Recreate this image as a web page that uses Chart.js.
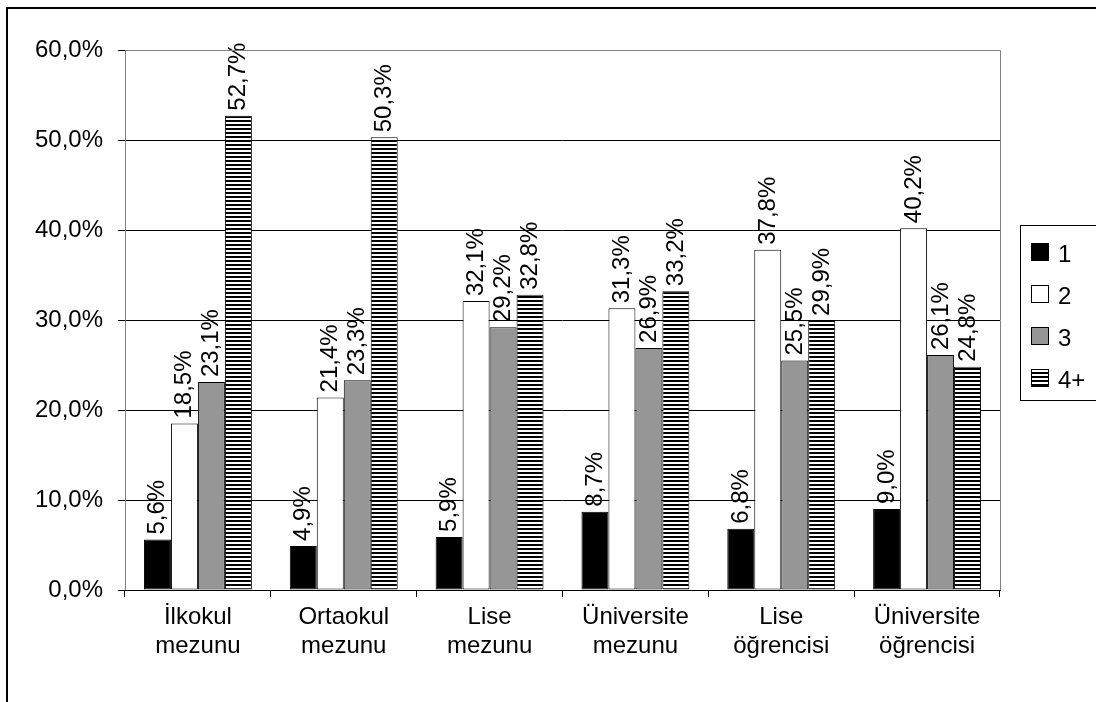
<!DOCTYPE html>
<html>
<head>
<meta charset="utf-8">
<script src="https://cdn.jsdelivr.net/npm/chart.js@4"></script>
<style>
  html, body { margin: 0; padding: 0; background: #fff; }
  #wrap { width: 1096px; height: 702px; }
</style>
</head>
<body>
<div id="wrap"><canvas id="grafico" width="1096" height="702"></canvas></div>
<script>
// Kategoriler ve seriler
const kategoriler = [['İlkokul', 'mezunu'], ['Ortaokul', 'mezunu'], ['Lise', 'mezunu'],
  ['Üniversite', 'mezunu'], ['Lise', 'öğrencisi'], ['Üniversite', 'öğrencisi']];
const seri1 = [5.6, 4.9, 5.9, 8.7, 6.8, 9.0];
const seri2 = [18.5, 21.4, 32.1, 31.3, 37.8, 40.2];
const seri3 = [23.1, 23.3, 29.2, 26.9, 25.5, 26.1];
const seri4 = [52.7, 50.3, 32.8, 33.2, 29.9, 24.8];
const seriAdlari = ['1', '2', '3', '4+'];
const yTikler = [0, 10, 20, 30, 40, 50, 60];

const FONT = 'Arial, "Liberation Sans", sans-serif';

// yatay çizgili desen (4+)
function cizgiliDesen() {
    const c = document.createElement('canvas');
    c.width = 4; c.height = 4;
    const g = c.getContext('2d');
    g.fillStyle = '#fff';
    g.fillRect(0, 0, 4, 4);
    g.fillStyle = '#000';
    g.fillRect(0, 0, 4, 2);
    return document.getElementById('grafico').getContext('2d').createPattern(c, 'repeat');
}
const desen = cizgiliDesen();

const virgul = v => v.toFixed(1).replace('.', ',') + '%';

// etiketler, lejant ve çerçeve
const ekPlugin = {
    id: 'ekler',
    afterDatasetsDraw(chart) {
        const ctx = chart.ctx;
        ctx.save();
        ctx.font = '24px ' + FONT;
        ctx.fillStyle = '#000';
        ctx.textAlign = 'left';
        ctx.textBaseline = 'alphabetic';
        chart.data.datasets.forEach((ds, i) => {
            chart.getDatasetMeta(i).data.forEach((bar, j) => {
                ctx.save();
                ctx.translate(bar.x + 7, bar.y - 5);
                ctx.rotate(-Math.PI / 2);
                ctx.fillText(virgul(ds.data[j]), 0, 0);
                ctx.restore();
            });
        });
        ctx.restore();
    },
    afterDraw(chart) {
        const ctx = chart.ctx;
        const a = chart.chartArea;
        ctx.save();
        // grafik alanı çerçevesi
        ctx.strokeStyle = '#808080';
        ctx.lineWidth = 1;
        ctx.beginPath();
        ctx.moveTo(a.left + 0.5, a.bottom);
        ctx.lineTo(a.left + 0.5, a.top + 0.5);
        ctx.lineTo(a.right + 0.5, a.top + 0.5);
        ctx.lineTo(a.right + 0.5, a.bottom);
        ctx.stroke();
        ctx.strokeStyle = '#000';
        ctx.beginPath();
        ctx.moveTo(a.left, a.bottom + 0.5);
        ctx.lineTo(a.right + 1, a.bottom + 0.5);
        ctx.stroke();
        // dış çerçeve
        ctx.lineWidth = 2;
        ctx.strokeRect(7, 8, 1200, 1000);
        // lejant
        ctx.lineWidth = 1;
        ctx.strokeRect(1020.5, 225.5, 200, 175);
        ctx.font = '24px ' + FONT;
        ctx.textBaseline = 'alphabetic';
        ctx.textAlign = 'left';
        chart.data.datasets.forEach((ds, i) => {
            const y = 252 + i * 42;
            ctx.fillStyle = ds.backgroundColor;
            ctx.fillRect(1031, y - 9, 18, 18);
            ctx.strokeStyle = '#000';
            ctx.strokeRect(1031.5, y - 8.5, 17, 17);
            ctx.fillStyle = '#000';
            ctx.fillText(ds.label, 1058, y + 10);
        });
        ctx.restore();
    }
};

const ctx = document.getElementById('grafico');
new Chart(ctx, {
    type: 'bar',
    data: {
        labels: kategoriler,
        datasets: [
            { label: seriAdlari[0], data: seri1, backgroundColor: '#000000' },
            { label: seriAdlari[1], data: seri2, backgroundColor: '#ffffff' },
            { label: seriAdlari[2], data: seri3, backgroundColor: '#969696' },
            { label: seriAdlari[3], data: seri4, backgroundColor: desen }
        ].map(d => Object.assign(d, {
            borderColor: '#000', borderWidth: 1, borderSkipped: false,
            categoryPercentage: 0.74, barPercentage: 1.0
        }))
    },
    options: {
        responsive: false,
        animation: false,
        layout: { padding: { top: 50, right: 96, bottom: 0, left: 0 } },
        plugins: { legend: { display: false }, tooltip: { enabled: false } },
        scales: {
            x: {
                afterFit: s => { s.height = 112; },
                grid: { offset: true, drawOnChartArea: false, color: '#000', tickLength: 7 },
                border: { display: false },
                ticks: { color: '#000', font: { family: FONT, size: 24 }, padding: 6, maxRotation: 0 }
            },
            y: {
                min: 0, max: 60,
                afterFit: s => { s.width = 125; },
                afterBuildTicks: s => { s.ticks = yTikler.map(v => ({ value: v })); },
                grid: { color: '#000', tickLength: 7 },
                border: { display: false },
                ticks: {
                    color: '#000', font: { family: FONT, size: 24 }, padding: 15,
                    callback: v => virgul(v)
                }
            }
        }
    },
    plugins: [ekPlugin]
});
</script>
</body>
</html>
